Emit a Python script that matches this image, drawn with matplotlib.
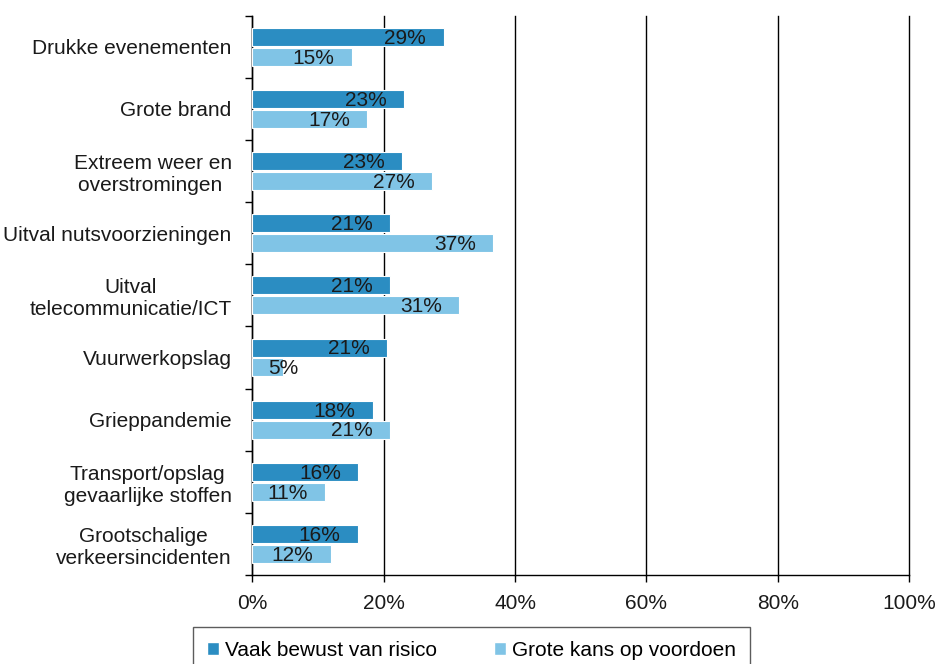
import numpy as np
import matplotlib
matplotlib.use('Agg')
import matplotlib.pyplot as plt
from matplotlib.patches import Patch

plt.rcParams['font.family'] = ['Liberation Sans', 'DejaVu Sans']

categories = ['Drukke evenementen', 'Grote brand', 'Extreem weer en\noverstromingen ',
              'Uitval nutsvoorzieningen', 'Uitval\ntelecommunicatie/ICT', 'Vuurwerkopslag',
              'Grieppandemie', 'Transport/opslag\ngevaarlijke stoffen',
              'Grootschalige\nverkeersincidenten']
bewust = [29, 23, 23, 21, 21, 21, 18, 16, 16]       # Vaak bewust van risico
kans = [15, 17, 27, 37, 31, 5, 21, 11, 12]          # Grote kans op voordoen
bewust_val = [29.1, 23.1, 22.8, 21.0, 20.9, 20.5, 18.3, 16.1, 16.0]
kans_val = [15.1, 17.5, 27.4, 36.7, 31.5, 4.7, 20.9, 11.0, 11.9]
xticks = [0, 20, 40, 60, 80, 100]

dark = '#2B8DC2'
light = '#80C4E6'

fig = plt.figure(figsize=(9.37, 6.64), dpi=100)
ax = fig.add_axes([252.5/937, 1-575/664, (909-252.5)/937, (575-15.7)/664])

y = np.arange(len(categories))
h = 0.29
ax.barh(y - 0.16, bewust_val, height=h, color=dark, edgecolor='white', linewidth=0.8, zorder=3)
ax.barh(y + 0.16, kans_val, height=h, color=light, edgecolor='white', linewidth=0.8, zorder=3)

# data labels, Excel style "inside end"
for i in range(len(categories)):
    for val, txt, off in [(bewust_val[i], bewust[i], -0.16), (kans_val[i], kans[i], 0.16)]:
        if val < 8:
            ax.annotate(f'{txt}%', (0, y[i] + off), xytext=(11.5, -1), textcoords='offset points',
                        ha='left', va='center', fontsize=15, color='#1a1a1a', zorder=4)
        else:
            ax.annotate(f'{txt}%', (val, y[i] + off), xytext=(-12.5, -1), textcoords='offset points',
                        ha='right', va='center', fontsize=15, color='#1a1a1a', zorder=4)

ax.set_xlim(0, 100)
ax.set_ylim(len(categories) - 0.5, -0.5)
ax.set_xticks(xticks)
ax.set_xticklabels([f'{t}%' for t in xticks], fontsize=15, color='#1a1a1a')
ax.set_yticks(y)
ax.set_yticklabels(categories, fontsize=15, color='#1a1a1a', multialignment='center')
ax.set_yticks(np.arange(len(categories) + 1) - 0.5, minor=True)
ax.tick_params(axis='y', which='major', length=0, pad=15)
ax.tick_params(axis='y', which='minor', length=5, width=1, direction='out', color='black')
ax.tick_params(axis='x', length=5, width=1, direction='out', pad=9, color='black')

ax.grid(axis='x', color='black', linewidth=1, zorder=1)
for gl in ax.get_xgridlines():
    gl.set_clip_on(False)
for s in ['top', 'right']:
    ax.spines[s].set_visible(False)
for s in ['left', 'bottom']:
    ax.spines[s].set_linewidth(1)
    ax.spines[s].set_color('black')

handles = [Patch(facecolor=dark, edgecolor='white', label='Vaak bewust van risico'),
           Patch(facecolor=light, edgecolor='white', label='Grote kans op voordoen')]
leg = fig.legend(handles=handles, loc='upper left', bbox_to_anchor=(193/937, 1-627/664),
                 ncol=2, fontsize=15, frameon=True, fancybox=False, handlelength=0.6,
                 handleheight=0.6, handletextpad=0.3, columnspacing=2.7, borderpad=0.65,
                 borderaxespad=0)
leg.get_frame().set_edgecolor('#333333')
leg.get_frame().set_linewidth(1)

fig.savefig('out.png', dpi=100)
